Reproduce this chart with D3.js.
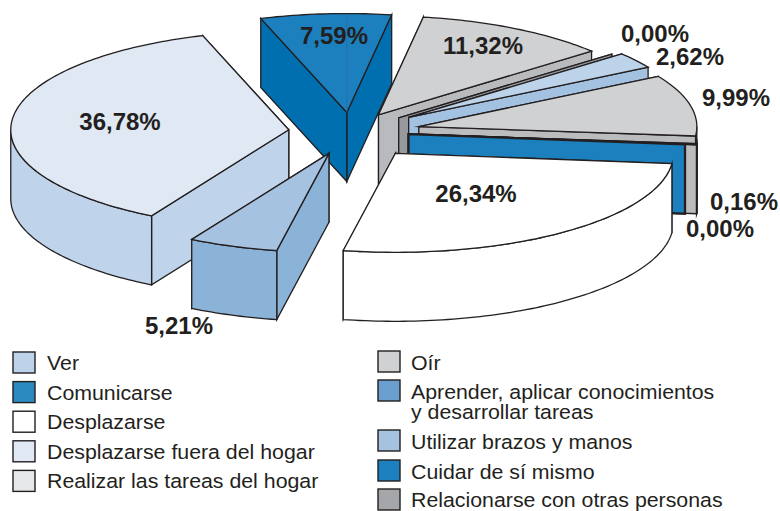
<!DOCTYPE html>
<html>
<head>
<meta charset="utf-8">
<script src="https://cdnjs.cloudflare.com/ajax/libs/d3/7.8.5/d3.min.js"></script>
<style>
  html, body { margin: 0; padding: 0; background: #fff; }
  svg { display: block; }
  text { font-family: "Liberation Sans", sans-serif; fill: #231f20; }
</style>
</head>
<body>
<div id="chart"></div>
<script>
// slice values, clockwise from the right edge of the white slice
const categories = ['Desplazarse', 'Aprender', 'Desplazarse fuera del hogar', 'Cuidar de sí mismo', 'Oír',
  'Relacionarse', 'Ver', 'Realizar las tareas del hogar', 'Comunicarse', 'Utilizar'];
const values = [26.34, 5.21, 36.78, 7.59, 11.32, 0.00, 2.62, 9.99, 0.16, 0.00];
const valueLabels = ['26,34%', '5,21%', '36,78%', '7,59%', '11,32%', '0,00%', '2,62%', '9,99%', '0,16%', '0,00%'];

// how far each slice is pulled out of the pie, as a share of the radius
const explode = [0.268, 0.23, 0.225, 0.197, 0.2, 0.224, 0.254, 0.25, 0.25, 0.208];

const topColors = ['#ffffff', '#a5c2e0', '#dfe8f3', '#1b80bd', '#d0d1d3', '#97999c', '#bdd3e9', '#d0d1d3', '#bbbcbe', '#1b80bd'];
const wallColors = ['#ffffff', '#8bb2d7', '#bfd4ea', '#006fb0', '#b9babd', '#97999c', '#a3c1e0', '#bbbcbe', '#bbbcbe', '#1b80bd'];
const strokeWidths = [1.3, 1.3, 1.3, 1.3, 1.3, 1.3, 1.3, 1.3, 1.5, 2.2];

const labelX = [476, 179, 120, 334, 483, 655, 690, 736, 744, 720];
const labelY = [202, 334, 130, 44, 54, 42, 65, 106, 210, 237];

const legendLeft = ['Ver', 'Comunicarse', 'Desplazarse', 'Desplazarse fuera del hogar', 'Realizar las tareas del hogar'];
const legendLeftColors = ['#bdd3e9', '#2b8bc0', '#ffffff', '#dfe8f3', '#e6e7e8'];
const legendRight = [['Oír'], ['Aprender, aplicar conocimientos', 'y desarrollar tareas'], ['Utilizar brazos y manos'], ['Cuidar de sí mismo'], ['Relacionarse con otras personas']];
const legendRightColors = ['#d0d1d3', '#6a9fcf', '#a5c2e0', '#1b80bd', '#a4a6a9'];
const legendRightY = [351, 380, 430, 460, 489];
const legendRightBaseline = [370, 399, 449, 479, 506.5];

const width = 780, height = 511;
const cx = 351, cy = 132;
const rx = 278, ry = 99, depth = 69;
const startDeg = 96; // d3.pie angle of the first slice edge

const svg = d3.select('#chart').append('svg')
  .attr('width', width)
  .attr('height', height)
  .attr('viewBox', [0, 0, width, height]);

const pie = d3.pie().sort(null)
  .startAngle(startDeg * Math.PI / 180)
  .endAngle((startDeg + 360) * Math.PI / 180);
const arcs = pie(values);
const line = d3.line();

// d3.pie angle -> point on the flattened ellipse
const project = (a, r = 1) => [rx * r * Math.sin(a), -ry * r * Math.cos(a)];

const slices = arcs.map((d, i) => {
  const mid = (d.startAngle + d.endAngle) / 2;
  const off = project(mid, explode[i]);
  return { i, a0: d.startAngle, a1: d.endAngle, mid, ox: cx + off[0], oy: cy + off[1] };
});

// paint back to front
slices.sort((p, q) => -Math.cos(p.mid) - -Math.cos(q.mid));

function rimPoints(a0, a1) {
  const n = Math.max(2, Math.ceil((a1 - a0) / 0.02));
  return d3.range(n + 1).map(k => project(a0 + (a1 - a0) * k / n));
}

// part of the rim that faces the viewer (lower half of the ellipse)
function frontRange(a0, a1) {
  const lo = Math.PI / 2, hi = 3 * Math.PI / 2;
  for (const shift of [0, -2 * Math.PI]) {
    const s = Math.max(a0 + shift, lo), e = Math.min(a1 + shift, hi);
    if (e > s) return [s, e];
  }
  return null;
}

slices.forEach(s => {
  const g = svg.append('g')
    .attr('transform', `translate(${s.ox},${s.oy})`)
    .attr('stroke', '#231f20')
    .attr('stroke-width', strokeWidths[s.i])
    .attr('stroke-linejoin', 'miter')
    .attr('stroke-miterlimit', 20);

  // radial walls, the one with the higher rim point first
  const edges = [s.a0, s.a1].sort((p, q) => project(p)[1] - project(q)[1]);
  edges.forEach(a => {
    const r = project(a);
    g.append('path')
      .attr('fill', wallColors[s.i])
      .attr('d', line([[0, 0], r, [r[0], r[1] + depth], [0, depth]]) + 'Z');
  });

  // outer wall
  const fr = frontRange(s.a0, s.a1);
  if (fr) {
    const rim = rimPoints(fr[0], fr[1]);
    const low = rim.map(p => [p[0], p[1] + depth]).reverse();
    g.append('path')
      .attr('fill', wallColors[s.i])
      .attr('d', line(rim.concat(low)) + 'Z');
  }

  // top face
  if (s.a1 > s.a0) {
    g.append('path')
      .attr('fill', topColors[s.i])
      .attr('d', line([[0, 0]].concat(rimPoints(s.a0, s.a1))) + 'Z');
  }

  // thin seam on the dark blue slice
  if (categories[s.i] === 'Cuidar de sí mismo') {
    g.append('line')
      .attr('x1', 0).attr('y1', 0)
      .attr('x2', 0).attr('y2', -ry)
      .attr('stroke', '#2a6f9f')
      .attr('stroke-width', 0.8);
  }
});

// value labels
svg.selectAll('.value-label')
  .data(valueLabels)
  .enter()
  .append('text')
  .attr('class', 'value-label')
  .attr('x', (d, i) => labelX[i])
  .attr('y', (d, i) => labelY[i])
  .attr('text-anchor', 'middle')
  .attr('font-size', '24px')
  .attr('font-weight', 'bold')
  .text(d => d);

// legend
function swatch(x, y, fill) {
  svg.append('rect')
    .attr('x', x).attr('y', y)
    .attr('width', 22).attr('height', 21)
    .attr('fill', fill)
    .attr('stroke', '#231f20')
    .attr('stroke-width', 1.4);
}
// one text element per entry, wrapped rows go in tspans
function legendText(x, y, rows) {
  const t = svg.append('text')
    .attr('transform', `translate(${x},${y}) scale(1.04,1)`)
    .attr('font-size', '20.5px');
  rows.forEach((row, k) => {
    t.append('tspan')
      .attr('x', 0)
      .attr('y', k * 20)
      .text(row);
  });
}

legendLeft.forEach((name, i) => {
  const y = 352 + i * 29.6;
  swatch(13, y, legendLeftColors[i]);
  legendText(47, y + 18, [name]);
});
legendRight.forEach((rows, i) => {
  swatch(378, legendRightY[i], legendRightColors[i]);
  legendText(411, legendRightBaseline[i], rows);
});
</script>
</body>
</html>
